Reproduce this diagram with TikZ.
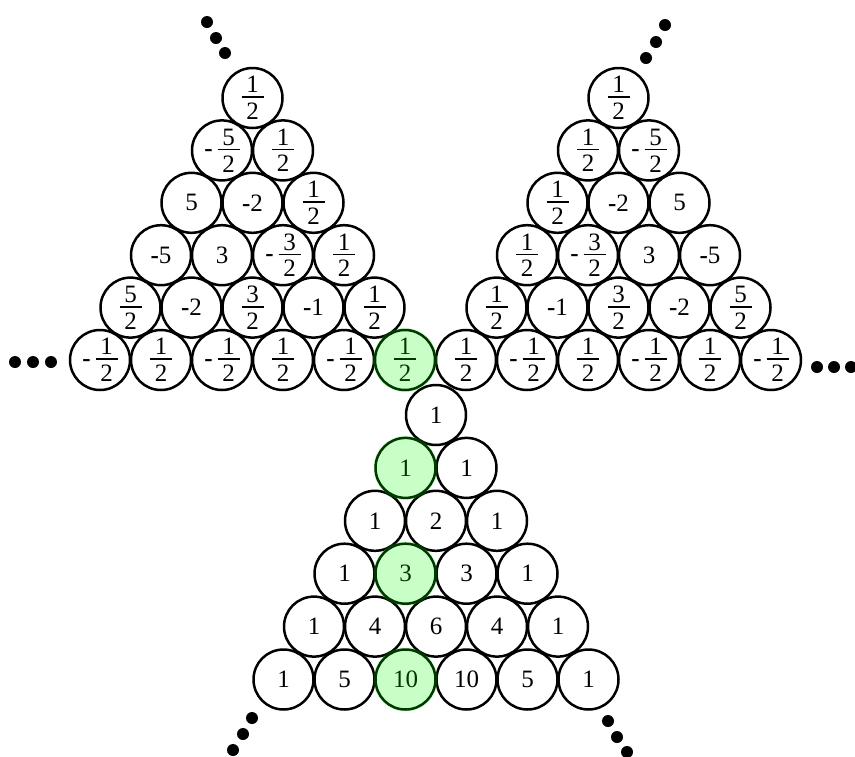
\documentclass[tikz,border=0pt]{standalone}
\usepackage{fontspec}
\setmainfont{Liberation Serif}
\newcommand\fr[2]{$\vcenter{\hbox to 22pt{\hss#1\hss}\kern3.5pt\hrule height 1.6pt\kern5pt\hbox to 22pt{\hss#2\hss}}$}
\newcommand\mn{\textbf{-}}
\newcommand\nf[2]{\mn\hspace{5pt}\fr{#1}{#2}}
\begin{document}
\begin{tikzpicture}[x=1pt,y=-1pt,
  cell/.style={circle,draw,line width=2.5pt,minimum size=60pt,inner sep=0pt,font=\fontsize{25pt}{29pt}\selectfont},
  hl/.style={circle,fill={rgb,255:red,0;green,255;blue,0},fill opacity=0.22,minimum size=64pt,inner sep=0pt},
  dot/.style={circle,fill=black,minimum size=12pt,inner sep=0pt}]
\useasboundingbox (0,0) rectangle (855,756);
% base row
\foreach \t [count=\i from 0] in {{\nf12},{\fr12},{\nf12},{\fr12},{\nf12},{\fr12},{\fr12},{\nf12},{\fr12},{\nf12},{\fr12},{\nf12}}
  \node[cell] (t\i) at ({100+61*\i},360) {\t};
% left triangle
\foreach \t [count=\k from 0] in {{\fr52},{\mn2},{\fr32},{\mn1},{\fr12}}
  \node[cell] (l1\k) at ({100+30.5*1+61*\k},{360-52.4*1}) {\t};
\foreach \t [count=\k from 0] in {{\mn5},{3},{\nf32},{\fr12}}
  \node[cell] (l2\k) at ({100+30.5*2+61*\k},{360-52.4*2}) {\t};
\foreach \t [count=\k from 0] in {{5},{\mn2},{\fr12}}
  \node[cell] (l3\k) at ({100+30.5*3+61*\k},{360-52.4*3}) {\t};
\foreach \t [count=\k from 0] in {{\nf52},{\fr12}}
  \node[cell] (l4\k) at ({100+30.5*4+61*\k},{360-52.4*4}) {\t};
\node[cell] (l50) at ({100+30.5*5},{360-52.4*5}) {\fr12};
% right triangle
\foreach \t [count=\k from 0] in {{\fr12},{\mn1},{\fr32},{\mn2},{\fr52}}
  \node[cell] (r1\k) at ({466+30.5*1+61*\k},{360-52.4*1}) {\t};
\foreach \t [count=\k from 0] in {{\fr12},{\nf32},{3},{\mn5}}
  \node[cell] (r2\k) at ({466+30.5*2+61*\k},{360-52.4*2}) {\t};
\foreach \t [count=\k from 0] in {{\fr12},{\mn2},{5}}
  \node[cell] (r3\k) at ({466+30.5*3+61*\k},{360-52.4*3}) {\t};
\foreach \t [count=\k from 0] in {{\fr12},{\nf52}}
  \node[cell] (r4\k) at ({466+30.5*4+61*\k},{360-52.4*4}) {\t};
\node[cell] (r50) at ({466+30.5*5},{360-52.4*5}) {\fr12};
% bottom triangle
\node[cell] (b00) at (436,415) {1};
\foreach \t [count=\k from 0] in {1,1}
  \node[cell] (b1\k) at ({436-30.5*1+61*\k},{415+52.9*1}) {\t};
\foreach \t [count=\k from 0] in {1,2,1}
  \node[cell] (b2\k) at ({436-30.5*2+61*\k},{415+52.9*2}) {\t};
\foreach \t [count=\k from 0] in {1,3,3,1}
  \node[cell] (b3\k) at ({436-30.5*3+61*\k},{415+52.9*3}) {\t};
\foreach \t [count=\k from 0] in {1,4,6,4,1}
  \node[cell] (b4\k) at ({436-30.5*4+61*\k},{415+52.9*4}) {\t};
\foreach \t [count=\k from 0] in {1,5,10,10,5,1}
  \node[cell] (b5\k) at ({436-30.5*5+61*\k},{415+52.9*5}) {\t};
% highlights
\node[hl] (h1) at (t5) {};
\node[hl] (h2) at (b10) {};
\node[hl] (h3) at (b31) {};
\node[hl] (h4) at (b52) {};
% dots
\node[dot] (d1) at (207,22) {};
\node[dot] (d2) at (216,38) {};
\node[dot] (d3) at (225,53) {};
\node[dot] (d4) at (665,25) {};
\node[dot] (d5) at (656,42) {};
\node[dot] (d6) at (646,58) {};
\node[dot] (d7) at (15,362) {};
\node[dot] (d8) at (33,362) {};
\node[dot] (d9) at (51,362) {};
\node[dot] (d10) at (817,367) {};
\node[dot] (d11) at (834,367) {};
\node[dot] (d12) at (851,367) {};
\node[dot] (d13) at (252,718) {};
\node[dot] (d14) at (243,734) {};
\node[dot] (d15) at (233,750) {};
\node[dot] (d16) at (608,721) {};
\node[dot] (d17) at (617,737) {};
\node[dot] (d18) at (627,752) {};
\end{tikzpicture}
\end{document}
